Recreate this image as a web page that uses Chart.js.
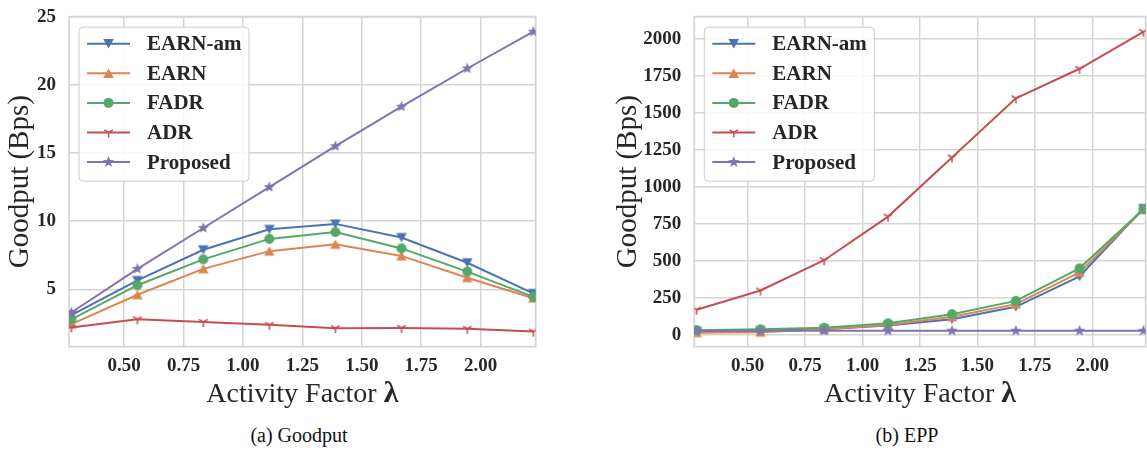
<!DOCTYPE html>
<html>
<head>
<meta charset="utf-8">
<script src="https://cdn.jsdelivr.net/npm/chart.js@4.4.1/dist/chart.umd.min.js"></script>
<style>
  body { margin: 0; background: #fff; }
  #wrap { position: relative; width: 1147px; height: 450px; }
  .panel { position: absolute; top: 0; height: 420px; }
  .cap { position: absolute; top: 423px; width: 200px; text-align: center;
         font: 20px "Liberation Serif", serif; line-height: 24px; color: #111; }
</style>
</head>
<body>
<div id="wrap">
  <div class="panel" style="left:0;width:560px"><canvas id="goodput"></canvas></div>
  <div class="panel" style="left:580px;width:567px"><canvas id="epp"></canvas></div>
  <div class="cap" style="left:199px">(a) Goodput</div>
  <div class="cap" style="left:807px">(b) EPP</div>
</div>
<script>
// activity factor values on the x axis
const lambdas = [0.278, 0.556, 0.833, 1.111, 1.389, 1.667, 1.944, 2.222];
const seriesNames = ['EARN-am', 'EARN', 'FADR', 'ADR', 'Proposed'];

// goodput (Bps)
const goodEarnAm = [3.1, 5.65, 7.9, 9.4, 9.8, 8.8, 6.95, 4.7];
const goodEarn = [2.45, 4.6, 6.5, 7.8, 8.3, 7.45, 5.85, 4.35];
const goodFadr = [2.8, 5.3, 7.2, 8.7, 9.2, 8.0, 6.3, 4.45];
const goodAdr = [2.2, 2.8, 2.6, 2.4, 2.15, 2.17, 2.1, 1.9];
const goodProposed = [3.3, 6.5, 9.5, 12.5, 15.5, 18.4, 21.2, 23.9];

// EPP panel
const eppEarnAm = [25, 28, 38, 63, 106, 190, 395, 855];
const eppEarn = [15, 18, 38, 66, 122, 208, 422, 848];
const eppFadr = [32, 38, 48, 78, 140, 230, 450, 850];
const eppAdr = [170, 300, 505, 800, 1200, 1600, 1800, 2050];
const eppProposed = [28, 28, 28, 28, 28, 28, 28, 28];

const xTicks = [0.5, 0.75, 1.0, 1.25, 1.5, 1.75, 2.0];
const goodTicks = [5, 10, 15, 20, 25];
const eppTicks = [0, 250, 500, 750, 1000, 1250, 1500, 1750, 2000];

const colors = ['#4c72b0', '#dd8452', '#55a868', '#c44e52', '#8172b3'];
const markers = ['down', 'up', 'circle', 'tri', 'star'];
const TEXT = '#262626';
const GRID = '#d5d5d5';

function drawMarker(g, kind, x, y, color) {
  g.save();
  g.fillStyle = color;
  g.strokeStyle = color;
  g.beginPath();
  if (kind === 'down') {
    g.moveTo(x - 5.3, y - 4.6); g.lineTo(x + 5.3, y - 4.6); g.lineTo(x, y + 4.8);
    g.closePath(); g.fill();
  } else if (kind === 'up') {
    g.moveTo(x - 5.3, y + 4.6); g.lineTo(x + 5.3, y + 4.6); g.lineTo(x, y - 4.8);
    g.closePath(); g.fill();
  } else if (kind === 'circle') {
    g.arc(x, y, 5, 0, Math.PI * 2); g.fill();
  } else if (kind === 'tri') {
    g.lineWidth = 1.5;
    g.moveTo(x, y); g.lineTo(x, y + 5);
    g.moveTo(x, y); g.lineTo(x - 4.3, y - 2.7);
    g.moveTo(x, y); g.lineTo(x + 4.3, y - 2.7);
    g.stroke();
  } else if (kind === 'star') {
    for (let k = 0; k < 10; k++) {
      const r = k % 2 ? 2.5 : 6;
      const a = -Math.PI / 2 + k * Math.PI / 5;
      const px = x + r * Math.cos(a), py = y + r * Math.sin(a);
      k ? g.lineTo(px, py) : g.moveTo(px, py);
    }
    g.closePath(); g.fill();
  }
  g.restore();
}

function markerCanvas(kind, color) {
  const c = document.createElement('canvas');
  c.width = 16; c.height = 16;
  drawMarker(c.getContext('2d'), kind, 8, 8, color);
  return c;
}

function makeDatasets(lists) {
  return lists.map((vals, i) => ({
    label: seriesNames[i],
    data: vals.map((v, j) => ({ x: lambdas[j], y: v })),
    borderColor: colors[i],
    backgroundColor: colors[i],
    borderWidth: 2,
    pointStyle: markerCanvas(markers[i], colors[i]),
    pointRadius: 5,
    markerKind: markers[i],
    order: lists.length - i,
    tension: 0,
    fill: false
  }));
}

// plot frame
const framePlugin = {
  id: 'frame',
  beforeDatasetsDraw(chart) {
    const { ctx, chartArea: a } = chart;
    ctx.save();
    ctx.strokeStyle = GRID;
    ctx.lineWidth = 1.8;
    ctx.strokeRect(a.left, a.top, a.right - a.left, a.bottom - a.top);
    ctx.restore();
  }
};

// legend box inside the upper-left corner
const legendPlugin = {
  id: 'boxLegend',
  afterDatasetsDraw(chart) {
    const { ctx, chartArea: a } = chart;
    const x0 = a.left + 10, y0 = a.top + 10.5, w = 170, h = 154;
    ctx.save();
    ctx.beginPath();
    ctx.roundRect(x0, y0, w, h, 4);
    ctx.fillStyle = 'rgba(255,255,255,0.85)';
    ctx.fill();
    ctx.strokeStyle = '#cccccc';
    ctx.lineWidth = 1;
    ctx.stroke();
    chart.data.datasets.forEach((ds, i) => {
      const y = y0 + 16.5 + i * 29.6;
      ctx.beginPath();
      ctx.moveTo(x0 + 8, y);
      ctx.lineTo(x0 + 51, y);
      ctx.strokeStyle = ds.borderColor;
      ctx.lineWidth = 2;
      ctx.stroke();
      drawMarker(ctx, ds.markerKind, x0 + 29.5, y, ds.borderColor);
      ctx.font = 'bold 21px "Liberation Serif"';
      ctx.fillStyle = TEXT;
      ctx.textBaseline = 'middle';
      ctx.textAlign = 'left';
      ctx.fillText(ds.label, x0 + 68, y + 1);
    });
    ctx.restore();
  }
};

// x axis title with a bold lambda
const xTitlePlugin = {
  id: 'xTitle',
  afterDraw(chart) {
    const { ctx, chartArea: a } = chart;
    const main = 'Activity Factor ', sym = 'λ';
    ctx.save();
    ctx.font = '28px "Liberation Serif"';
    const w1 = ctx.measureText(main).width;
    ctx.font = 'bold 30px "Liberation Serif"';
    const w2 = ctx.measureText(sym).width;
    const x = (a.left + a.right) / 2 - (w1 + w2) / 2;
    ctx.fillStyle = TEXT;
    ctx.textBaseline = 'alphabetic';
    ctx.textAlign = 'left';
    ctx.font = '28px "Liberation Serif"';
    ctx.fillText(main, x, 402);
    ctx.font = 'bold 30px "Liberation Serif"';
    ctx.fillText(sym, x + w1, 402);
    ctx.restore();
  }
};

function makeChart(id, lists, yTicks, yMin, yMax, box) {
  return new Chart(document.getElementById(id), {
    type: 'line',
    data: { datasets: makeDatasets(lists) },
    plugins: [framePlugin, legendPlugin, xTitlePlugin],
    options: {
      responsive: true,
      maintainAspectRatio: false,
      animation: false,
      layout: { autoPadding: false, padding: { left: 0, top: 16.7, right: box.right, bottom: 0 } },
      plugins: { legend: { display: false }, tooltip: { enabled: false } },
      scales: {
        x: {
          type: 'linear',
          min: 0.268,
          max: 2.232,
          afterBuildTicks: s => { s.ticks = xTicks.map(v => ({ value: v })); },
          afterFit: s => { s.height = 420 - 346.7; s.paddingLeft = 0; s.paddingRight = 0; },
          border: { display: false },
          grid: { color: GRID, lineWidth: 1.5, drawTicks: false },
          ticks: {
            padding: 8,
            color: TEXT,
            font: { family: 'Liberation Serif', size: 19, weight: 'bold' },
            callback: v => v.toFixed(2)
          }
        },
        y: {
          min: yMin,
          max: yMax,
          afterBuildTicks: s => { s.ticks = yTicks.map(v => ({ value: v })); },
          afterFit: s => { s.width = box.left; s.paddingTop = 0; s.paddingBottom = 0; },
          border: { display: false },
          grid: { color: GRID, lineWidth: 1.5, drawTicks: false },
          ticks: {
            padding: 13,
            color: TEXT,
            font: { family: 'Liberation Serif', size: 19, weight: 'bold' },
            callback: v => String(v)
          },
          title: {
            display: true,
            text: 'Goodput (Bps)',
            color: TEXT,
            padding: { top: box.titlePad, bottom: 0 },
            font: { family: 'Liberation Serif', size: 29 }
          }
        }
      }
    }
  });
}

makeChart('goodput', [goodEarnAm, goodEarn, goodFadr, goodAdr, goodProposed],
  goodTicks, 0.79, 25.0, { left: 69, right: 24.3, titlePad: 2.5 });
makeChart('epp', [eppEarnAm, eppEarn, eppFadr, eppAdr, eppProposed],
  eppTicks, -80, 2152, { left: 114.3, right: 1.3, titlePad: 30.5 });
</script>
</body>
</html>
